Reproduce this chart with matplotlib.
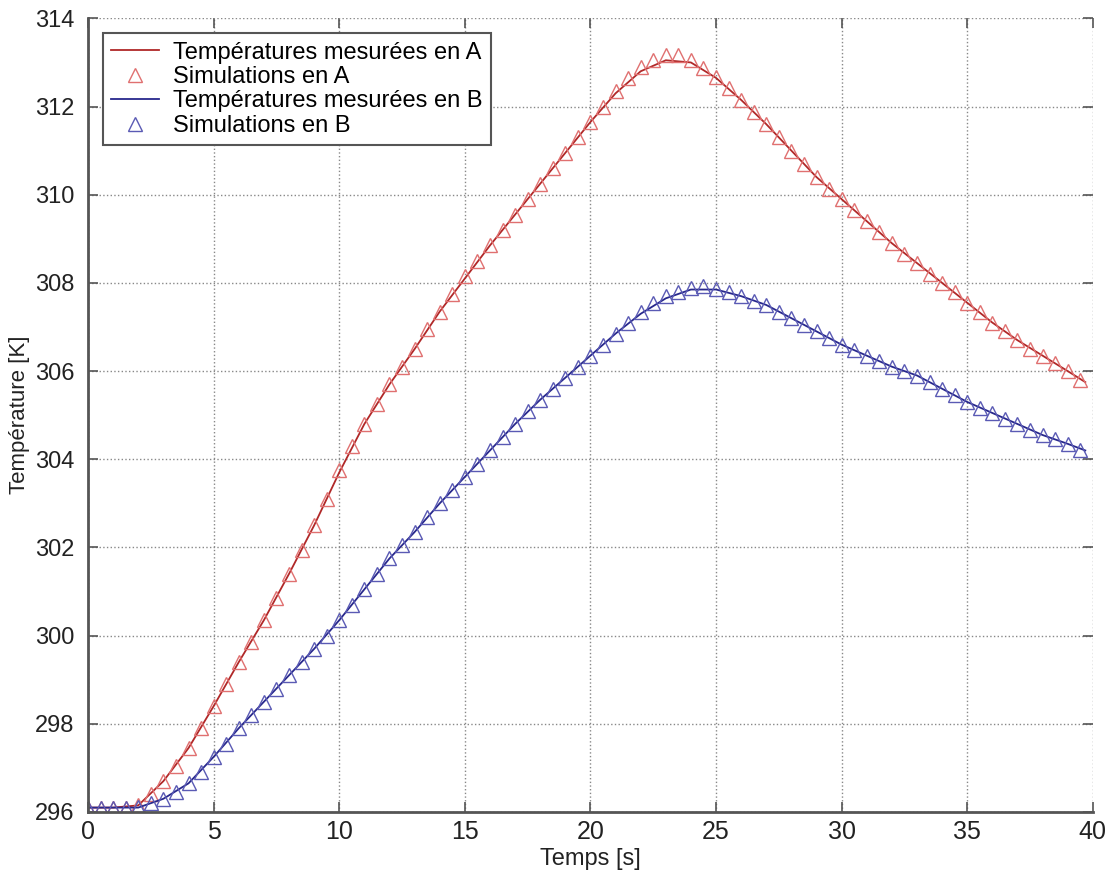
import numpy as np
import matplotlib.pyplot as plt

plt.rcParams['font.family'] = ['Liberation Sans', 'DejaVu Sans']

# simulation samples, every 0.5 s
tSim = np.arange(0, 40, 0.5)
simA = [296.1, 296.1, 296.1, 296.1, 296.15, 296.4, 296.7, 297.05, 297.45, 297.9,
        298.4, 298.9, 299.4, 299.85, 300.35, 300.85, 301.4, 301.95, 302.5, 303.1,
        303.75, 304.3, 304.8, 305.25, 305.7, 306.1, 306.5, 306.95, 307.35, 307.75,
        308.15, 308.5, 308.85, 309.2, 309.55, 309.9, 310.25, 310.6, 310.95, 311.3,
        311.65, 312.0, 312.35, 312.65, 312.9, 313.05, 313.18, 313.18, 313.05, 312.88,
        312.67, 312.42, 312.15, 311.88, 311.6, 311.3, 311.0, 310.7, 310.4, 310.12,
        309.9, 309.65, 309.4, 309.15, 308.9, 308.65, 308.45, 308.2, 308.0, 307.8,
        307.55, 307.35, 307.1, 306.9, 306.7, 306.5, 306.35, 306.18, 306.0, 305.8]
simB = [296.1, 296.1, 296.1, 296.1, 296.12, 296.2, 296.3, 296.45, 296.65, 296.9,
        297.25, 297.55, 297.9, 298.2, 298.5, 298.8, 299.1, 299.4, 299.7, 300.0,
        300.35, 300.7, 301.05, 301.4, 301.75, 302.05, 302.35, 302.7, 303.0, 303.3,
        303.6, 303.9, 304.2, 304.5, 304.8, 305.1, 305.35, 305.6, 305.85, 306.1,
        306.35, 306.6, 306.85, 307.1, 307.35, 307.55, 307.7, 307.8, 307.88, 307.92,
        307.87, 307.8, 307.7, 307.6, 307.5, 307.35, 307.2, 307.05, 306.9, 306.75,
        306.6, 306.47, 306.35, 306.22, 306.1, 306.0, 305.9, 305.75, 305.6, 305.45,
        305.3, 305.17, 305.05, 304.92, 304.8, 304.67, 304.55, 304.45, 304.35, 304.2]

# measured temperatures, every 1 s
tMes = [0, 1, 2, 3, 4, 5, 6, 7, 8, 9, 10, 11, 12, 13, 14, 15, 16, 17, 18, 19,
        20, 21, 22, 23, 24, 25, 26, 27, 28, 29, 30, 31, 32, 33, 34, 35, 36, 37, 38, 39, 39.7]
mesA = [296.1, 296.1, 296.15, 296.7, 297.45, 298.4, 299.4, 300.35, 301.4, 302.5,
        303.7, 304.8, 305.7, 306.5, 307.35, 308.1, 308.85, 309.55, 310.25, 310.95,
        311.65, 312.3, 312.8, 313.05, 313.0, 312.65, 312.15, 311.6, 311.0, 310.4,
        309.9, 309.4, 308.9, 308.45, 308.0, 307.55, 307.1, 306.7, 306.35, 306.0, 305.75]
mesB = [296.1, 296.1, 296.1, 296.3, 296.65, 297.25, 297.9, 298.5, 299.1, 299.7,
        300.35, 301.05, 301.75, 302.35, 303.0, 303.6, 304.2, 304.8, 305.35, 305.85,
        306.35, 306.85, 307.3, 307.65, 307.85, 307.85, 307.7, 307.5, 307.2, 306.9,
        306.6, 306.35, 306.1, 305.9, 305.6, 305.3, 305.05, 304.8, 304.55, 304.35, 304.2]

fig = plt.figure(figsize=(11.06, 8.75), dpi=100)
ax = fig.add_axes([0.0796, 0.072, 0.9085, 0.907])

ax.plot(tMes, mesA, color="#b02828", lw=1.3, label="Températures mesurées en A")
ax.plot(tSim, simA, ls="none", marker="^", ms=10, mfc="none", mec="#e07070", mew=1.0,
        label="Simulations en A")
ax.plot(tMes, mesB, color="#28288c", lw=1.3, label="Températures mesurées en B")
ax.plot(tSim, simB, ls="none", marker="^", ms=10, mfc="none", mec="#5a5ab4", mew=1.0,
        label="Simulations en B")

ax.set_xlim(0, 40)
ax.set_ylim(296, 314)
ax.set_xticks(np.arange(0, 41, 5))
ax.set_yticks(np.arange(296, 315, 2))
ax.grid(True, ls=":", color="#888888", lw=1.0)

for s in ["top", "right"]:
    ax.spines[s].set_visible(False)
for s in ["left", "bottom"]:
    ax.spines[s].set_color("#555555")
    ax.spines[s].set_linewidth(2)

ax.tick_params(direction="in", length=7, width=1.2, colors="#555555", labelcolor="#222222",
               top=True, right=True)
ax.tick_params(axis="x", pad=6, labelsize=18)
ax.tick_params(axis="y", pad=10, labelsize=17)
ax.set_xlabel("Temps [s]", fontsize=17, color="#222222", labelpad=3)
ax.set_ylabel("Température [K]", fontsize=16, color="#222222", labelpad=3)

leg = ax.legend(loc="upper left", bbox_to_anchor=(0.015, 0.981), borderaxespad=0,
                fontsize=17, fancybox=False, framealpha=1, handlelength=2.0,
                labelspacing=0.1, borderpad=0.35, handletextpad=0.6)
leg.get_frame().set_edgecolor("#555555")
leg.get_frame().set_linewidth(1.5)

plt.savefig("out.png", dpi=100)
